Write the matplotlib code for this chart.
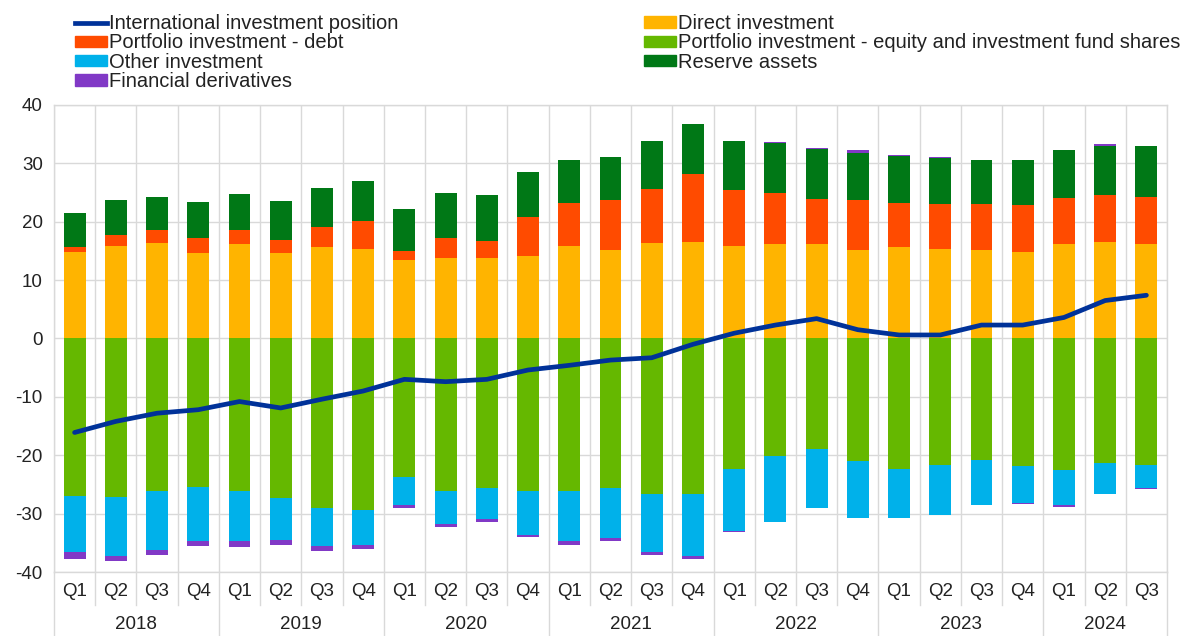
import numpy as np
import matplotlib
matplotlib.use("Agg")
import matplotlib.pyplot as plt
from matplotlib.lines import Line2D
from matplotlib.patches import Patch
import matplotlib.transforms as mtransforms

plt.rcParams['font.family'] = ['Liberation Sans', 'DejaVu Sans']
plt.rcParams['axes.unicode_minus'] = False

# Quarters 2018Q1 .. 2024Q3
years = ['2018', '2019', '2020', '2021', '2022', '2023', '2024']
quarters = ['Q1', 'Q2', 'Q3', 'Q4'] * 6 + ['Q1', 'Q2', 'Q3']

# Components (percentage of GDP)
direct_inv = [14.8, 15.9, 16.3, 14.6, 16.1, 14.6, 15.7, 15.4, 13.5, 13.7, 13.7, 14.1, 15.9, 15.2,
              16.3, 16.5, 15.9, 16.1, 16.1, 15.2, 15.7, 15.4, 15.2, 14.8, 16.1, 16.5, 16.1]
portfolio_debt = [0.9, 1.9, 2.2, 2.6, 2.4, 2.3, 3.4, 4.8, 1.5, 3.5, 3.0, 6.7, 7.3, 8.5,
                  9.3, 11.7, 9.5, 8.9, 7.8, 8.5, 7.5, 7.6, 7.8, 8.0, 8.0, 8.0, 8.2]
reserve_assets = [5.8, 5.9, 5.8, 6.1, 6.2, 6.6, 6.7, 6.7, 7.2, 7.8, 7.8, 7.7, 7.4, 7.3,
                  8.2, 8.5, 8.4, 8.4, 8.5, 8.0, 8.1, 7.9, 7.6, 7.8, 8.2, 8.5, 8.7]
portfolio_equity = [-26.9, -27.1, -26.2, -25.4, -26.2, -27.4, -29.1, -29.3, -23.7, -26.1, -25.6, -26.1, -26.1, -25.6,
                    -26.7, -26.7, -22.3, -20.2, -19.0, -21.0, -22.3, -21.7, -20.8, -21.9, -22.6, -21.3, -21.7]
other_inv = [-9.7, -10.2, -10.0, -9.3, -8.5, -7.1, -6.5, -6.1, -4.8, -5.7, -5.3, -7.5, -8.6, -8.5,
             -9.9, -10.6, -10.7, -11.2, -10.0, -9.8, -8.5, -8.6, -7.7, -6.3, -6.0, -5.3, -3.9]
fin_deriv = [-1.1, -0.8, -0.9, -0.8, -1.1, -0.8, -0.8, -0.6, -0.6, -0.5, -0.5, -0.4, -0.6, -0.6,
             -0.5, -0.4, -0.2, 0.3, 0.2, 0.6, 0.2, 0.1, -0.1, -0.2, -0.3, 0.3, -0.2]
iip = [-16.1, -14.2, -12.8, -12.2, -10.8, -11.9, -10.4, -9.0, -7.0, -7.4, -7.0, -5.4, -4.6, -3.7,
       -3.3, -1.0, 0.9, 2.3, 3.4, 1.5, 0.6, 0.6, 2.3, 2.3, 3.6, 6.5, 7.4]

c_iip = '#003299'
c_di = '#FFB400'
c_pd = '#FF4B00'
c_eq = '#65B800'
c_oi = '#00B1EA'
c_ra = '#007816'
c_fd = '#8139C6'
grid_c = '#d9d9d9'
txt_c = '#222222'

fig = plt.figure(figsize=(11.89, 6.36), dpi=100)
ax = fig.add_axes([0.0454, 0.1006, 0.9361, 0.7344])

n = len(quarters)
x = np.arange(n)
w = 0.53

di = np.array(direct_inv)
pdb = np.array(portfolio_debt)
ra = np.array(reserve_assets)
eq = np.array(portfolio_equity)
oi = np.array(other_inv)
fd = np.array(fin_deriv)

# positive stack
ax.bar(x, di, w, color=c_di, zorder=2)
ax.bar(x, pdb, w, bottom=di, color=c_pd, zorder=2)
ax.bar(x, ra, w, bottom=di + pdb, color=c_ra, zorder=2)
top = di + pdb + ra
# negative stack
ax.bar(x, eq, w, color=c_eq, zorder=2)
ax.bar(x, oi, w, bottom=eq, color=c_oi, zorder=2)
low = eq + oi
# derivatives go on whichever side their sign says
fd_bottom = np.where(fd >= 0, top, low)
ax.bar(x, fd, w, bottom=fd_bottom, color=c_fd, zorder=2)

ax.plot(x, iip, color=c_iip, lw=3.4, zorder=3, solid_capstyle='round')

ax.set_xlim(-0.5, n - 0.5)
ax.set_ylim(-40, 40)
ax.set_yticks(range(-40, 41, 10))
ax.set_xticks(x)
ax.set_xticklabels(quarters)
ax.set_xticks(np.arange(-0.5, n, 1), minor=True)
ax.tick_params(axis='both', which='both', length=0, labelsize=13.5, colors=txt_c)
ax.tick_params(axis='x', pad=8)
ax.tick_params(axis='y', pad=8)
ax.grid(axis='y', which='major', color=grid_c, lw=1, zorder=0)
ax.grid(axis='x', which='minor', color=grid_c, lw=1, zorder=0)
ax.set_axisbelow(True)
for s in ax.spines.values():
    s.set_color(grid_c)
    s.set_linewidth(1)

# separators below the axis and year labels
trans = mtransforms.blended_transform_factory(ax.transData, ax.transAxes)
for b in range(n + 1):
    y_end = -0.137 if (b % 4 == 0 or b == n) else -0.0707
    ax.plot([b - 0.5, b - 0.5], [0, y_end], color=grid_c, lw=1,
            transform=trans, clip_on=False)
for i, yr in enumerate(years):
    start = i * 4
    end = min(start + 4, n)
    ax.text((start + end - 1) / 2, -0.113, yr, transform=trans, ha='center', va='center',
            fontsize=13.5, color=txt_c)

handles = [
    Line2D([0], [0], color=c_iip, lw=3.4),
    Patch(color=c_pd),
    Patch(color=c_oi),
    Patch(color=c_fd),
    Patch(color=c_di),
    Patch(color=c_eq),
    Patch(color=c_ra),
]
labels = ['International investment position', 'Portfolio investment - debt', 'Other investment',
          'Financial derivatives', 'Direct investment',
          'Portfolio investment - equity and investment fund shares', 'Reserve assets']
fig.legend(handles, labels, ncol=2, loc='upper left', bbox_to_anchor=(75 / 1189, 1 - 14 / 636),
           frameon=False, fontsize=14.5, handlelength=1.6, handleheight=0.5, handletextpad=0.08,
           labelspacing=0.02, columnspacing=12.2, borderpad=0, borderaxespad=0, labelcolor=txt_c)

fig.savefig('out.png', dpi=100)
